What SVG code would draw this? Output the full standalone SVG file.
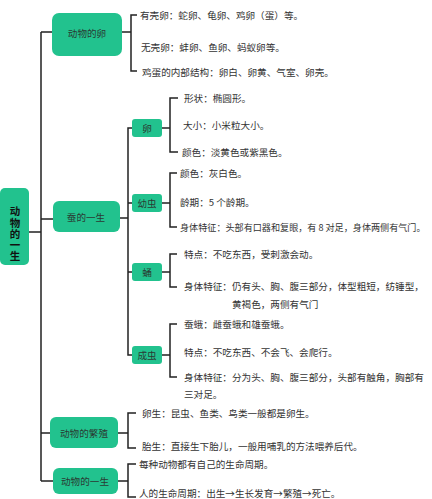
<svg xmlns="http://www.w3.org/2000/svg" width="432" height="499" viewBox="0 0 432 499">
<style>
.n{fill:#22c28e}
.nt{font-family:"Noto Sans CJK SC","Noto Sans",sans-serif;font-size:9.6px;fill:#2a3a33;text-anchor:middle;dominant-baseline:central}
.t{font-family:"Noto Sans CJK SC","Noto Sans",sans-serif;font-size:9.6px;fill:#333;dominant-baseline:central}
.rt{font-family:"Noto Sans CJK SC","Noto Sans",sans-serif;font-size:10.5px;font-weight:bold;fill:#111;text-anchor:middle;writing-mode:vertical-rl;letter-spacing:0.6px}
.c{fill:none;stroke:#222;stroke-width:1.5}
</style>
<rect width="432" height="499" fill="#fff"/>
<g id="connectors">
<path class="c" d="M29,232H41M41,32V481M41,32H52M41,219H53M41,433H50M41,481H53"/>
<path class="c" d="M122,32H131M137,15H131V71H137"/>
<path class="c" d="M120,218H128M132,128H128V355H132M128,203H132M128,272H132"/>
<path class="c" d="M162,128H170M178,98H170V152H178"/>
<path class="c" d="M162,203H170M177,173H170V227H177"/>
<path class="c" d="M162,272H170M177,254H170V287H177"/>
<path class="c" d="M162,355H170M177,324H170V377H177"/>
<path class="c" d="M118,433H128M136,413H128V448H136"/>
<path class="c" d="M118,481H128M136,464H128V497H136"/>
</g>
<g id="root">
<rect class="n" x="0" y="188" width="29" height="77" rx="5"/>
<text class="rt" x="15" y="234">动物的一生</text>
</g>
<g id="n-egg">
<rect class="n" x="52" y="13" width="70" height="43" rx="7"/>
<text class="nt" x="87" y="33">动物的卵</text>
<text class="t" x="140" y="15">有壳卵：蛇卵、龟卵、鸡卵（蛋）等。</text>
<text class="t" x="141" y="47">无壳卵：蚌卵、鱼卵、蚂蚁卵等。</text>
<text class="t" x="142" y="72">鸡蛋的内部结构：卵白、卵黄、气室、卵壳。</text>
</g>
<g id="n-silkworm">
<rect class="n" x="53" y="201" width="67" height="31" rx="6"/>
<text class="nt" x="86" y="217">蚕的一生</text>
</g>
<g id="n-luan">
<rect class="n" x="132" y="119" width="30" height="18" rx="3"/>
<text class="nt" x="147" y="128">卵</text>
<text class="t" x="184" y="98">形状：椭圆形。</text>
<text class="t" x="183" y="125">大小：小米粒大小。</text>
<text class="t" x="182" y="152">颜色：淡黄色或紫黑色。</text>
</g>
<g id="n-larva">
<rect class="n" x="132" y="194" width="30" height="18" rx="3"/>
<text class="nt" x="147" y="203">幼虫</text>
<text class="t" x="180" y="173">颜色：灰白色。</text>
<text class="t" x="180" y="202">龄期：5 个龄期。</text>
<text class="t" x="180" y="227" style="font-size:9.1px">身体特征：头部有口器和复眼，有 8 对足，身体两侧有气门。</text>
</g>
<g id="n-pupa">
<rect class="n" x="132" y="263" width="30" height="18" rx="3"/>
<text class="nt" x="147" y="272">蛹</text>
<text class="t" x="184" y="254">特点：不吃东西，受刺激会动。</text>
<text class="t" x="184" y="286">身体特征：仍有头、胸、腹三部分，体型粗短，纺锤型，</text>
<text class="t" x="232" y="304">黄褐色，两侧有气门</text>
</g>
<g id="n-adult">
<rect class="n" x="132" y="346" width="30" height="18" rx="3"/>
<text class="nt" x="147" y="355">成虫</text>
<text class="t" x="184" y="324">蚕蛾：雌蚕蛾和雄蚕蛾。</text>
<text class="t" x="184" y="352">特点：不吃东西、不会飞、会爬行。</text>
<text class="t" x="184" y="377">身体特征：分为头、胸、腹三部分，头部有触角，胸部有</text>
<text class="t" x="184" y="394">三对足。</text>
</g>
<g id="n-repro">
<rect class="n" x="50" y="417" width="68" height="31" rx="6"/>
<text class="nt" x="84" y="433">动物的繁殖</text>
<text class="t" x="142" y="413">卵生：昆虫、鱼类、鸟类一般都是卵生。</text>
<text class="t" x="142" y="446">胎生：直接生下胎儿，一般用哺乳的方法喂养后代。</text>
</g>
<g id="n-life">
<rect class="n" x="53" y="468" width="65" height="26" rx="6"/>
<text class="nt" x="85" y="481">动物的一生</text>
<text class="t" x="139" y="464">每种动物都有自己的生命周期。</text>
<text class="t" x="139" y="493">人的生命周期：出生→生长发育→繁殖→死亡。</text>
</g>
</svg>
